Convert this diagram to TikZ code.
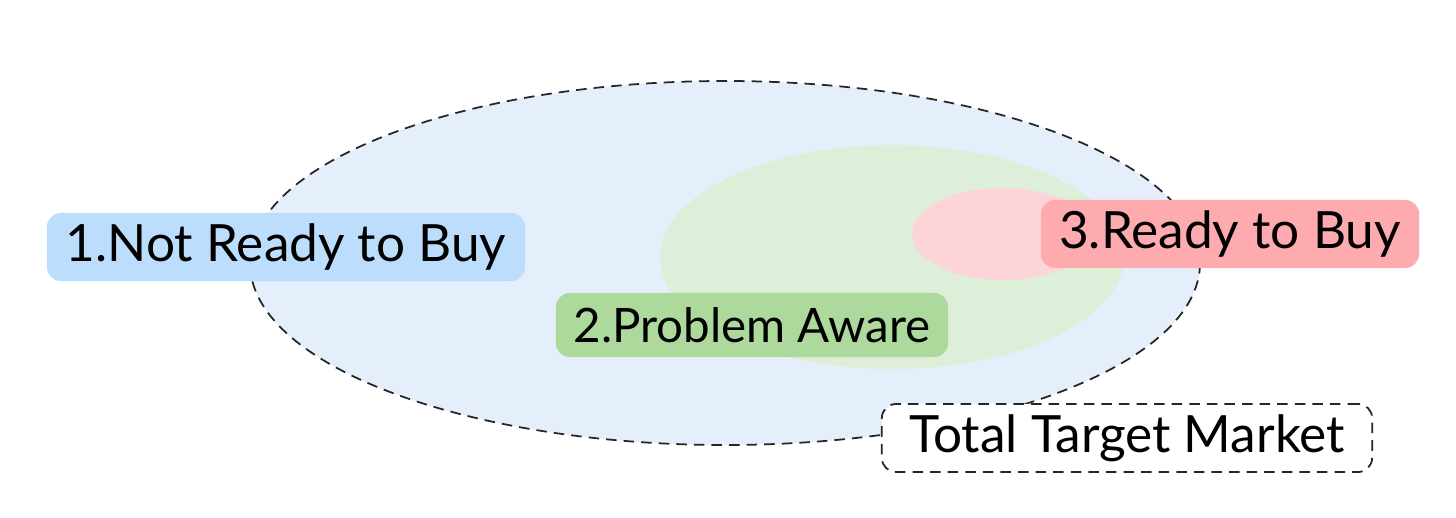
\documentclass[tikz,border=0pt]{standalone}
\usepackage{fontspec}
\setmainfont{Lato}
\usetikzlibrary{positioning}
\definecolor{marketfill}{HTML}{E5EFFC}
\definecolor{awarefill}{HTML}{DDEFD9}
\definecolor{readyfill}{HTML}{FDD5D8}
\definecolor{notreadybox}{HTML}{BDDDFC}
\definecolor{awarebox}{HTML}{ADDA9C}
\definecolor{readybox}{HTML}{FDABAE}
\begin{document}
\begin{tikzpicture}[x=0.01cm, y=-0.01cm,
  stage/.style={rounded corners=4pt, inner sep=0pt, minimum height=0.68cm,
    font=\fontsize{14.6}{18}\selectfont, text=black}]
\useasboundingbox (0,0) rectangle (1456,518);
% market and segments
\draw[black!85, densely dashed, line width=0.5pt, fill=marketfill] (725,263) ellipse (475 and 182);
\fill[awarefill] (892,257) ellipse (232 and 112);
\fill[readyfill] (1003,234) ellipse (91 and 46);
% labels
\node[stage, fill=notreadybox, minimum width=4.78cm] (notready) at (286,247) {1.Not Ready to Buy};
\node[stage, fill=awarebox, minimum width=3.92cm, minimum height=0.64cm,
  font=\fontsize{13.5}{16}\selectfont] (aware) at (752,325) {2.Problem Aware};
\node[stage, fill=readybox, minimum width=3.78cm] (ready) at (1230,234) {3.Ready to Buy};
\node[stage, fill=white, draw=black!85, densely dashed, line width=0.5pt, minimum width=4.9cm] (total) at (1127,438) {Total Target Market};
\end{tikzpicture}
\end{document}
